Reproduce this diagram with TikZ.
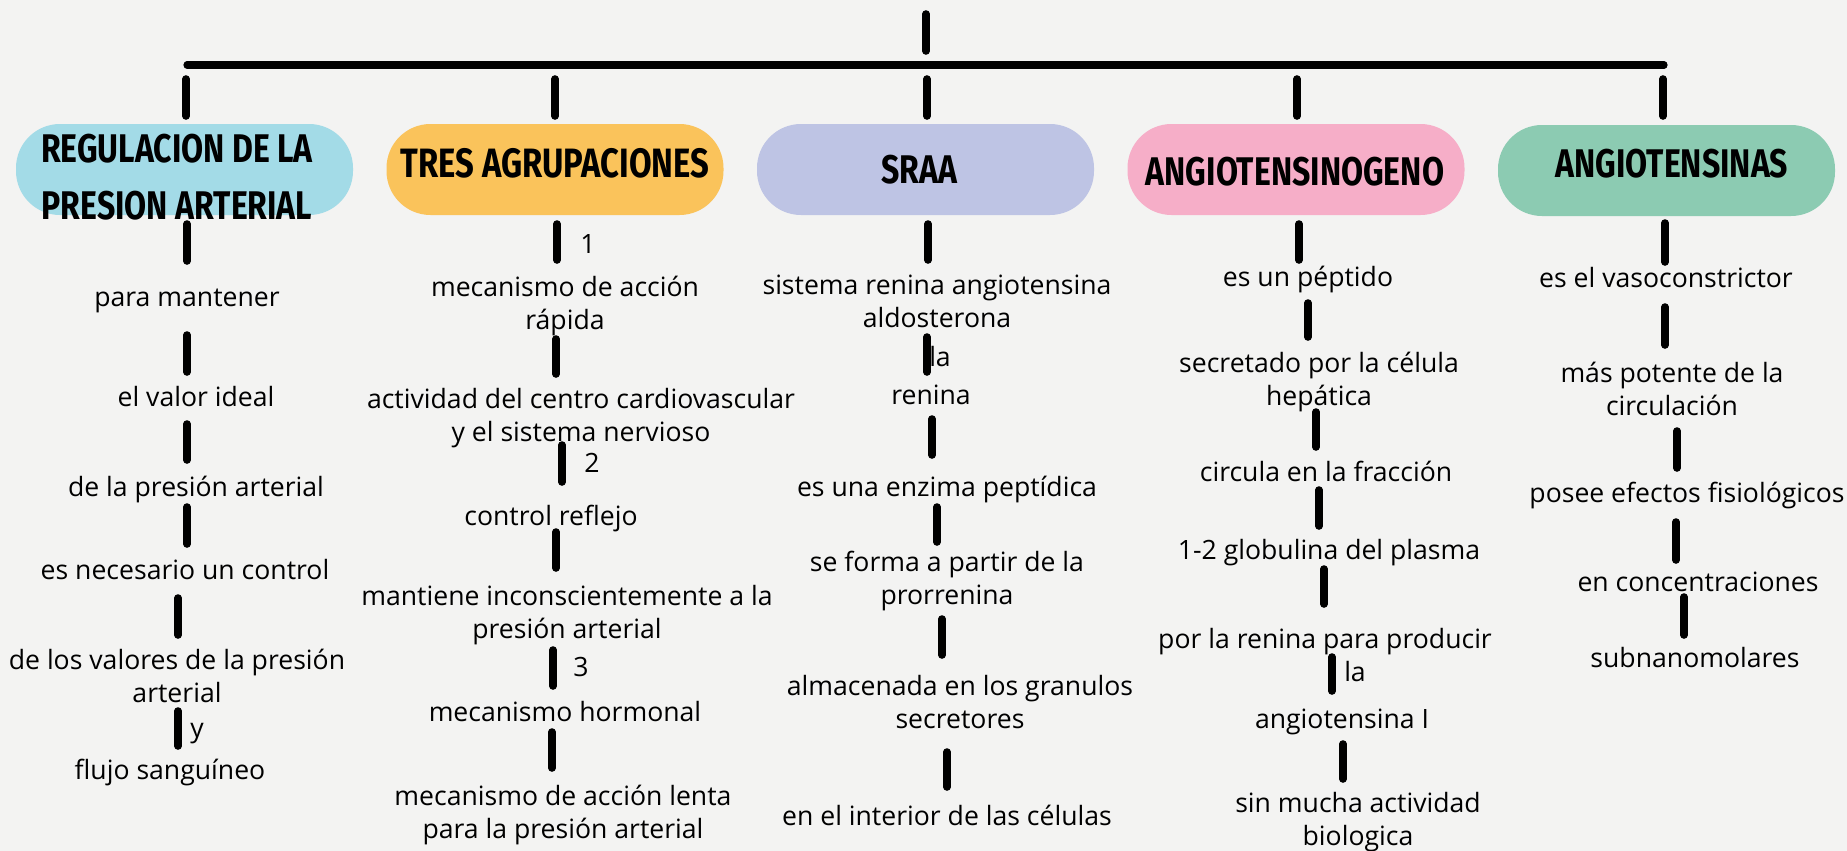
\documentclass[tikz,border=0pt]{standalone}
\usepackage{fontspec}
\setmainfont{Open Sans}
\newfontfamily\titlefont[FakeStretch=0.8]{Fira Sans}
\definecolor{bg}{HTML}{F3F3F2}
\definecolor{cblue}{HTML}{A3DBE7}
\definecolor{corange}{HTML}{FAC35B}
\definecolor{clav}{HTML}{BEC4E4}
\definecolor{cpink}{HTML}{F6AEC8}
\definecolor{cmint}{HTML}{8CCBB2}
\newcommand\mytick[4]{\coordinate (#1a) at (#2,#3); \coordinate (#1b) at (#2,#4); \draw[bar] (#1a) -- (#1b);}
\begin{document}
\begin{tikzpicture}[x=0.5pt,y=-0.5pt,
  bar/.style={line width=3.8pt, line cap=round, draw=black},
  txt/.style={font=\fontsize{13.3}{16.5}\selectfont, align=center, inner sep=0pt, anchor=mid, yshift=-2.5pt, text=black},
  pill/.style={rectangle, rounded corners=22pt, draw=none, inner sep=0pt, minimum height=45.5pt, minimum width=168.5pt},
  ttl/.style={font=\titlefont\bfseries\fontsize{20}{28.5}\selectfont, align=center, inner sep=0pt, anchor=base, text=black}]
\useasboundingbox (0,0) rectangle (1847,851);
\fill[bg] (0,0) rectangle (1847,851);

% top connectors
\coordinate (top) at (926,14);
\coordinate (topb) at (926,51);
\draw[bar] (top) -- (topb);
\coordinate (hl) at (187,65);
\coordinate (hr) at (1664,65);
\draw[line width=3.6pt, line cap=round] (hl) -- (hr);
\mytick{k1}{186}{79}{116}
\mytick{k2}{555}{79}{116}
\mytick{k3}{927}{79}{116}
\mytick{k4}{1297}{79}{116}
\mytick{k5}{1663}{79}{116}

% boxes
\node[pill, fill=cblue] (b1) at (184.5,169.5) {};
\node[pill, fill=corange] (b2) at (555,169.5) {};
\node[pill, fill=clav] (b3) at (925.5,169.5) {};
\node[pill, fill=cpink] (b4) at (1296,169.5) {};
\node[pill, fill=cmint] (b5) at (1666.5,170.5) {};

\node[ttl] (t1) at (177,219) {REGULACION DE LA\\PRESION ARTERIAL};
\node[ttl, font=\titlefont\bfseries\fontsize{20.5}{28.5}\selectfont] (t2) at (555,177) {TRES AGRUPACIONES};
\node[ttl] (t3) at (919,183) {SRAA};
\node[ttl] (t4) at (1295,185) {ANGIOTENSINOGENO};
\node[ttl] (t5) at (1672,177) {ANGIOTENSINAS};

% column 1
\mytick{a1}{187}{224}{261}
\node[txt] (a1n) at (187,296) {para mantener};
\mytick{a2}{187}{335}{372}
\node[txt] (a2n) at (196,396) {el valor ideal};
\mytick{a3}{187}{424}{460}
\node[txt] (a3n) at (196,486) {de la presión arterial};
\mytick{a4}{187}{507}{544}
\node[txt] (a4n) at (185,569) {es necesario un control};
\mytick{a5}{178}{598}{635}
\node[txt] (a5n) at (177,692) {de los valores de la presión\\arterial};
\mytick{a6}{178}{711}{746}
\node[txt] (a6l) at (197,727) {y};
\node[txt] (a6n) at (170,769) {flujo sanguíneo};

% column 2
\mytick{c1}{557}{224}{260}
\node[txt] (c1l) at (588,243) {1};
\node[txt] (c1n) at (565,319) {mecanismo de acción\\rápida};
\mytick{c2}{556}{339}{374}
\node[txt] (c2n) at (581,431) {actividad del centro cardiovascular\\y el sistema nervioso};
\mytick{c3}{562}{445}{482}
\node[txt] (c3l) at (592,462) {2};
\node[txt] (c3n) at (551,515) {control reflejo};
\mytick{c4}{556}{532}{568}
\node[txt] (c4n) at (567,628) {mantiene inconscientemente a la\\presión arterial};
\mytick{c5}{553}{650}{686}
\node[txt] (c5l) at (581,666) {3};
\node[txt] (c5n) at (565,711) {mecanismo hormonal};
\mytick{c6}{552}{732}{768}
\node[txt] (c6n) at (563,828) {mecanismo de acción lenta\\para la presión arterial};

% column 3
\mytick{d1}{928}{224}{260}
\node[txt] (d1n) at (937,317) {sistema renina angiotensina\\aldosterona};
\mytick{d2}{927}{337}{372}
\node[txt] (d2l) at (940,356) {la};
\node[txt] (d2n) at (931,394) {renina};
\mytick{d3}{932}{419}{455}
\node[txt] (d3n) at (947,486) {es una enzima peptídica};
\mytick{d4}{937}{507}{542}
\node[txt] (d4n) at (947,594) {se forma a partir de la\\prorrenina};
\mytick{d5}{942}{619}{655}
\node[txt] (d5n) at (960,718) {almacenada en los granulos\\secretores};
\mytick{d6}{947}{752}{787}
\node[txt] (d6n) at (947,815) {en el interior de las células};

% column 4
\mytick{e1}{1299}{224}{260}
\node[txt] (e1n) at (1308,276) {es un péptido};
\mytick{e2}{1308}{303}{337}
\node[txt] (e2n) at (1319,395) {secretado por la célula\\hepática};
\mytick{e3}{1316}{412}{447}
\node[txt] (e3n) at (1326,471) {circula en la fracción};
\mytick{e4}{1319}{490}{526}
\node[txt] (e4n) at (1329,549) {1-2 globulina del plasma};
\mytick{e5}{1324}{569}{604}
\node[txt] (e5n) at (1325,638) {por la renina para producir};
\mytick{e6}{1332}{657}{691}
\node[txt] (e6l) at (1355,671) {la};
\node[txt] (e6n) at (1342,718) {angiotensina I};
\mytick{e7}{1343}{744}{779}
\node[txt] (e7n) at (1358,835) {sin mucha actividad\\biologica};

% column 5
\mytick{f1}{1665}{223}{262}
\node[txt] (f1n) at (1666,277) {es el vasoconstrictor};
\mytick{f2}{1665}{307}{345}
\node[txt] (f2n) at (1672,405) {más potente de la\\circulación};
\mytick{f3}{1677}{431}{468}
\node[txt] (f3n) at (1687,492) {posee efectos fisiológicos};
\mytick{f4}{1676}{522}{560}
\node[txt] (f4n) at (1698,581) {en concentraciones};
\mytick{f5}{1684}{597}{635}
\node[txt] (f5n) at (1695,657) {subnanomolares};
\end{tikzpicture}
\end{document}
